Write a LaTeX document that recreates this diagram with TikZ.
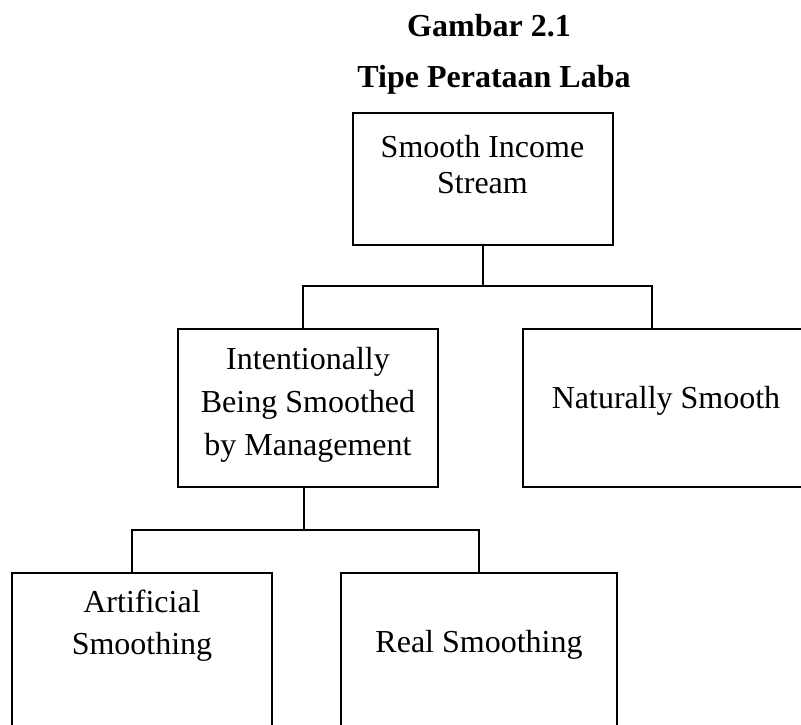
\documentclass[tikz,border=0pt]{standalone}
\usepackage{fontspec}
\setmainfont{Liberation Serif}
\begin{document}
\begin{tikzpicture}[x=1pt,y=-1pt,
  box/.style={draw=black,line width=1.6pt,rectangle,inner sep=0pt},
  txt/.style={inner sep=0pt,anchor=base,font=\fontsize{32}{38}\selectfont},
  ttl/.style={inner sep=0pt,anchor=base,font=\fontsize{32}{38}\selectfont\bfseries},
  conn/.style={draw=black,line width=1.6pt}]
\useasboundingbox (0,0) rectangle (801,725);
\begin{scope}
\clip (0,0) rectangle (801,725);
% titles
\node[ttl] (title1) at (489,37) {Gambar 2.1};
\node[ttl] (title2) at (494,88) {Tipe Perataan Laba};
% boxes
\node[box,minimum width=260pt,minimum height=132pt] (b1) at (483,179) {};
\node[box,minimum width=260pt,minimum height=158pt] (b2) at (308,408) {};
\node[box,minimum width=300pt,minimum height=158pt] (b3) at (673,408) {};
\node[box,minimum width=260pt,minimum height=180pt] (b4) at (142,663) {};
\node[box,minimum width=276pt,minimum height=180pt] (b5) at (479,663) {};
% texts
\node[txt] (t1a) at (482.5,157) {Smooth Income};
\node[txt] (t1b) at (482.5,193) {Stream};
\node[txt] (t2a) at (308,369) {Intentionally};
\node[txt] (t2b) at (308,412) {Being Smoothed};
\node[txt] (t2c) at (308,455) {by Management};
\node[txt] (t3) at (666,408) {Naturally Smooth};
\node[txt] (t4a) at (142,612) {Artificial};
\node[txt] (t4b) at (142,654) {Smoothing};
\node[txt] (t5) at (479,652) {Real Smoothing};
% connectors
\coordinate (j1) at (483,286);
\coordinate (j2) at (304,530);
\draw[conn] (b1.south) -- (j1);
\draw[conn] ([xshift=-5pt]b2.north) |- (j1) -| ([xshift=-21pt]b3.north);
\draw[conn] ([xshift=-4pt]b2.south) -- (j2);
\draw[conn] ([xshift=-10pt]b4.north) |- (j2) -| (b5.north);
\end{scope}
\end{tikzpicture}
\end{document}
